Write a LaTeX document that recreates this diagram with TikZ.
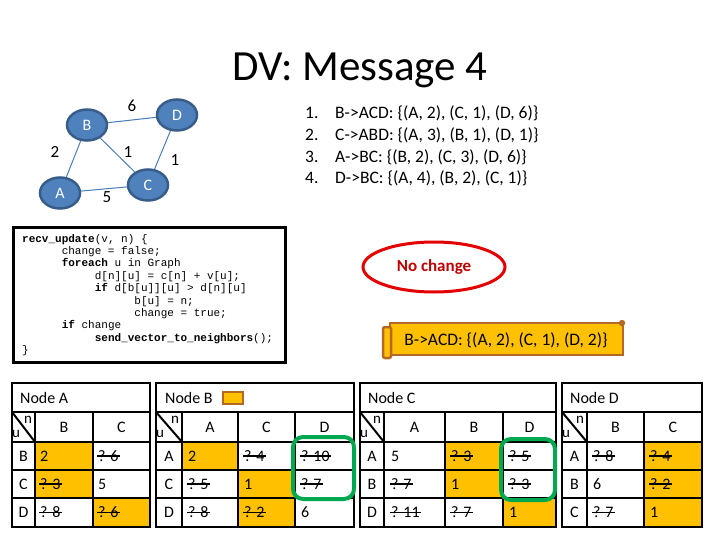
\documentclass[tikz,border=0pt]{standalone}
\usepackage{fontspec}
\setmainfont{Carlito}
\setmonofont{Liberation Mono}
\usetikzlibrary{shapes.geometric}

\definecolor{nodeblue}{RGB}{79,129,189}
\definecolor{nodeline}{RGB}{56,93,138}
\definecolor{linkblue}{RGB}{74,126,187}
\definecolor{hitorange}{RGB}{255,192,0}
\definecolor{scrollbrown}{RGB}{180,104,38}
\definecolor{watchgreen}{RGB}{0,168,80}
\definecolor{alertred}{RGB}{192,0,0}

\def\fsize#1{\fontsize{#1}{#1}\selectfont}
\newlength\cw
\setlength\cw{6.6pt}

\tikzset{
  gnode/.style={ellipse, draw=nodeline, fill=nodeblue, line width=2.5pt, text=white,
    minimum width=40pt, minimum height=31pt, inner sep=0pt, font=\fsize{16}},
  glink/.style={draw=linkblue, line width=1pt},
  wlabel/.style={font=\fsize{17}, inner sep=0pt},
  listtext/.style={anchor=base west, font=\fsize{17.5}, inner sep=0pt},
  grid/.style={line width=2pt, black},
  hit/.style={fill=hitorange},
  titletext/.style={anchor=west, font=\fsize{16}, inner sep=0pt},
  headtext/.style={font=\fsize{16}, inner sep=0pt},
  corner/.style={font=\fsize{15}, inner sep=0pt},
  cellval/.style={anchor=west, font=\fsize{16}, inner sep=0pt},
  strike/.style={line width=1.3pt, black},
  watch/.style={draw=watchgreen, line width=4pt, rounded corners=10pt},
  scroll/.style={fill=hitorange, draw=scrollbrown, line width=2.5pt}
}

\begin{document}
\begin{tikzpicture}[x=1pt, y=-1pt]
  \useasboundingbox (0,0) rectangle (720,540);

  %%%%% TITLE %%%%%
  \node[font=\fsize{43}, inner sep=0pt] (title) at (360,70) {DV: Message 4};

  %%%%% GRAPH %%%%%
  \node[gnode] (B) at (87,125) {B};
  \node[gnode] (D) at (177,115) {D};
  \node[gnode] (A) at (60,193) {A};
  \node[gnode] (C) at (148,185) {C};
  \draw[glink] (A) -- (B);
  \draw[glink] (B) -- (D);
  \draw[glink] (B) -- (C);
  \draw[glink] (D) -- (C);
  \draw[glink] (A) -- (C);
  \node[wlabel] (wbd) at (132,106) {6};
  \node[wlabel] (wab) at (55,152) {2};
  \node[wlabel] (wbc) at (128,152) {1};
  \node[wlabel] (wdc) at (175,160) {1};
  \node[wlabel] (wac) at (107,197) {5};

  %%%%% MESSAGES %%%%%
  \node[listtext] (n1) at (305,119) {1.};
  \node[listtext] (m1) at (335,119) {B->ACD: \{(A, 2), (C, 1), (D, 6)\}};
  \node[listtext] (n2) at (305,141) {2.};
  \node[listtext] (m2) at (335,141) {C->ABD: \{(A, 3), (B, 1), (D, 1)\}};
  \node[listtext] (n3) at (305,163) {3.};
  \node[listtext] (m3) at (335,163) {A->BC: \{(B, 2), (C, 3), (D, 6)\}};
  \node[listtext] (n4) at (305,184) {4.};
  \node[listtext] (m4) at (335,184) {D->BC: \{(A, 4), (B, 2), (C, 1)\}};

  %%%%% CODE %%%%%
  \draw[line width=3pt] (13,228) rectangle (285,362);
  \node[anchor=north west, align=left, inner sep=0pt, font=\ttfamily\fontsize{11}{12.4}\selectfont] (code) at (22,234)
  {\textbf{recv\_update}(v, n) \{\\
   \hspace*{6\cw}change = false;\\
   \hspace*{6\cw}\textbf{foreach} u in Graph\\
   \hspace*{11\cw}d[n][u] = c[n] + v[u];\\
   \hspace*{11\cw}\textbf{if} d[b[u]][u] > d[n][u]\\
   \hspace*{17\cw}b[u] = n;\\
   \hspace*{17\cw}change = true;\\
   \hspace*{6\cw}\textbf{if} change\\
   \hspace*{11\cw}\textbf{send\_vector\_to\_neighbors}();\\
   \}};

  %%%%% NO CHANGE %%%%%
  \node[ellipse, draw=red!90!black, line width=3pt, minimum width=142pt, minimum height=50pt,
    text=alertred, font=\bfseries\fsize{17}] (nochange) at (434,267) {No change};

  %%%%% SCROLL %%%%%
  \draw[scroll] (390,323) rectangle (623,355);
  \draw[scroll, rounded corners=2pt] (383,327) rectangle (391,358);
  \fill[scrollbrown] (622,323) circle (3.2);
  \node[font=\fsize{17.5}, inner sep=0pt] (bcast) at (506,340) {B->ACD: \{(A, 2), (C, 1), (D, 2)\}};

  %%%%% NODE A %%%%%
  \fill[hit] (35,442) rectangle (93,498);
  \fill[hit] (93,498) rectangle (150,527);
  \draw[grid] (12,383) rectangle (150,527);
  \foreach \y in {412,442,470,498} \draw[grid] (12,\y) -- (150,\y);
  \foreach \x in {35,93} \draw[grid] (\x,412) -- (\x,527);
  \draw[grid] (12,412) -- (35,442);
  \node[titletext] (ta) at (20,397.5) {Node A};
  \node[corner] (ta-n) at (28,420) {n};
  \node[corner] (ta-u) at (16,434) {u};
  \node[headtext] (ta-hb) at (64,427) {B};
  \node[headtext] (ta-hc) at (121.5,427) {C};
  \node[headtext] (ta-rb) at (23.5,456) {B};
  \node[headtext] (ta-rc) at (23.5,484) {C};
  \node[headtext] (ta-rd) at (23.5,512.5) {D};
  \node[cellval] (ta-bb) at (40,456) {2};
  \node[cellval] (ta-bc) at (98,456) {? 6};
  \node[cellval] (ta-cb) at (40,484) {? 3};
  \node[cellval] (ta-cc) at (98,484) {5};
  \node[cellval] (ta-db) at (40,512.5) {? 8};
  \node[cellval] (ta-dc) at (98,512.5) {? 6};

  %%%%% NODE B %%%%%
  \fill[hit] (182,442) rectangle (238,470);
  \fill[hit] (238,470) rectangle (295,527);
  \draw[grid] (156,383) rectangle (354,527);
  \foreach \y in {412,442,470,498} \draw[grid] (156,\y) -- (354,\y);
  \foreach \x in {182,238,295} \draw[grid] (\x,412) -- (\x,527);
  \draw[grid] (156,412) -- (182,442);
  \node[titletext] (tb) at (165,397.5) {Node B};
  \draw[fill=hitorange, draw=scrollbrown, line width=2.5pt] (223,392) rectangle (243,404);
  \node[corner] (tb-n) at (175,420) {n};
  \node[corner] (tb-u) at (160,434) {u};
  \node[headtext] (tb-ha) at (210,427) {A};
  \node[headtext] (tb-hc) at (266.5,427) {C};
  \node[headtext] (tb-hd) at (324.5,427) {D};
  \node[headtext] (tb-ra) at (169,456) {A};
  \node[headtext] (tb-rc) at (169,484) {C};
  \node[headtext] (tb-rd) at (169,512.5) {D};
  \node[cellval] (tb-aa) at (188,456) {2};
  \node[cellval] (tb-ac) at (244,456) {? 4};
  \node[cellval] (tb-ad) at (301,456) {? 10};
  \node[cellval] (tb-ca) at (188,484) {? 5};
  \node[cellval] (tb-cc) at (244,484) {1};
  \node[cellval] (tb-cd) at (301,484) {? 7};
  \node[cellval] (tb-da) at (188,512.5) {? 8};
  \node[cellval] (tb-dc) at (244,512.5) {? 2};
  \node[cellval] (tb-dd) at (301,512.5) {6};

  %%%%% NODE C %%%%%
  \fill[hit] (445,442) rectangle (503,498);
  \fill[hit] (503,498) rectangle (556,527);
  \draw[grid] (360,383) rectangle (556,527);
  \foreach \y in {412,442,470,498} \draw[grid] (360,\y) -- (556,\y);
  \foreach \x in {384,445,503} \draw[grid] (\x,412) -- (\x,527);
  \draw[grid] (360,412) -- (384,442);
  \node[titletext] (tc) at (368,397.5) {Node C};
  \node[corner] (tc-n) at (377,420) {n};
  \node[corner] (tc-u) at (364,434) {u};
  \node[headtext] (tc-ha) at (414.5,427) {A};
  \node[headtext] (tc-hb) at (474,427) {B};
  \node[headtext] (tc-hd) at (529.5,427) {D};
  \node[headtext] (tc-ra) at (372,456) {A};
  \node[headtext] (tc-rb) at (372,484) {B};
  \node[headtext] (tc-rd) at (372,512.5) {D};
  \node[cellval] (tc-aa) at (391,456) {5};
  \node[cellval] (tc-ab) at (451,456) {? 3};
  \node[cellval] (tc-ad) at (509,456) {? 5};
  \node[cellval] (tc-ba) at (391,484) {? 7};
  \node[cellval] (tc-bb) at (451,484) {1};
  \node[cellval] (tc-bd) at (509,484) {? 3};
  \node[cellval] (tc-da) at (391,512.5) {? 11};
  \node[cellval] (tc-db) at (451,512.5) {? 7};
  \node[cellval] (tc-dd) at (509,512.5) {1};

  %%%%% NODE D %%%%%
  \fill[hit] (644,442) rectangle (702,527);
  \draw[grid] (562,383) rectangle (702,527);
  \foreach \y in {412,442,470,498} \draw[grid] (562,\y) -- (702,\y);
  \foreach \x in {587,644} \draw[grid] (\x,412) -- (\x,527);
  \draw[grid] (562,412) -- (587,442);
  \node[titletext] (td) at (570,397.5) {Node D};
  \node[corner] (td-n) at (580,420) {n};
  \node[corner] (td-u) at (566,434) {u};
  \node[headtext] (td-hb) at (615.5,427) {B};
  \node[headtext] (td-hc) at (673,427) {C};
  \node[headtext] (td-ra) at (574.5,456) {A};
  \node[headtext] (td-rb) at (574.5,484) {B};
  \node[headtext] (td-rc) at (574.5,512.5) {C};
  \node[cellval] (td-ab) at (593,456) {? 8};
  \node[cellval] (td-ac) at (650,456) {? 4};
  \node[cellval] (td-bb) at (593,484) {6};
  \node[cellval] (td-bc) at (650,484) {? 2};
  \node[cellval] (td-cb) at (593,512.5) {? 7};
  \node[cellval] (td-cc) at (650,512.5) {1};

  %%%%% STRUCK OUT VALUES %%%%%
  \foreach \c in {ta-bc,ta-cb,ta-db,ta-dc,tb-ac,tb-ad,tb-ca,tb-cd,tb-da,tb-dc,
    tc-ab,tc-ad,tc-ba,tc-bd,tc-da,tc-db,td-ab,td-ac,td-bc,td-cb}
    \draw[strike] ([xshift=-1pt]\c.west) -- ([xshift=1pt]\c.east);

  %%%%% CHANGED ENTRIES %%%%%
  \draw[watch] (293,437) rectangle (354,499);
  \draw[watch] (501,439) rectangle (555,500);
\end{tikzpicture}
\end{document}
